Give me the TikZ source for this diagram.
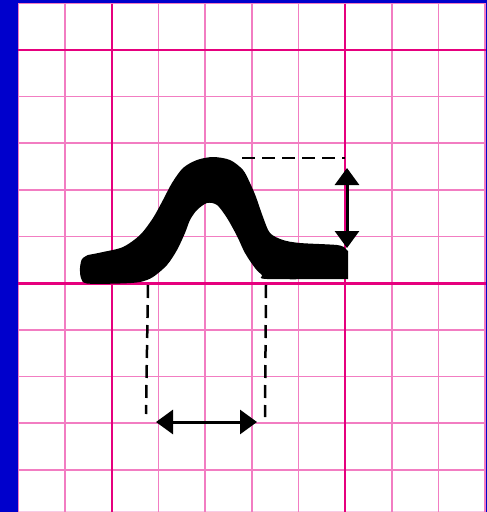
\documentclass[tikz,border=0pt]{standalone}
\usetikzlibrary{arrows.meta}
\definecolor{bordblue}{HTML}{0000CC}
\definecolor{minorpink}{HTML}{F27DC2}
\definecolor{majorpink}{HTML}{E6007E}
\tikzset{
  minorline/.style={draw=minorpink, line width=1.6pt},
  majorline/.style={draw=majorpink, line width=2.6pt},
  dashline/.style={draw=black, line width=2.5pt, dash pattern=on 13pt off 7pt},
  dimarrow/.style={draw=black, line width=3pt,
    {Triangle[length=17pt,width=24pt]}-{Triangle[length=17pt,width=24pt]}}
}
\begin{document}
\begin{tikzpicture}[x=1pt,y=-1pt]
\useasboundingbox (0,0) rectangle (487,512);
% background and border
\fill[bordblue] (0,0) rectangle (487,512);
\fill[white] (17.5,3.5) rectangle (485.5,512);
% grid
\foreach \k in {0,1,3,4,5,6,8,9,10} {
  \draw[minorline] ({18.5+46.65*\k},3.5) -- ({18.5+46.65*\k},512);
}
\foreach \k in {0,2,3,4,5,7,8,9,10} {
  \draw[minorline] (18,{3.3+46.65*\k}) -- (485.5,{3.3+46.65*\k});
}
\draw[minorline, draw opacity=0.4] (18,511.5) -- (485.5,511.5);
\foreach \k in {2,7} {
  \draw[majorline] ({18.5+46.65*\k},3.5) -- ({18.5+46.65*\k},512);
}
\foreach \k in {1,6} {
  \draw[majorline] (18,{3.3+46.65*\k}) -- (485.5,{3.3+46.65*\k});
}
% waveform
\fill[black] plot[smooth,tension=0.5] coordinates {(88,255) (103,252) (123,247) (140,235) (153,218) (163,200) (172,183) (183,168) (197,160) (213,157) (230,160) (243,170) (250,183) (256,197) (263,217) (270,233) (283,240) (300,243) (337,245) (345,248)}
  -- (348,251) -- (348,279)
  -- plot[smooth,tension=0.5] coordinates {(347,279) (267,279) (262,275) (255,268) (245,253) (237,236) (227,218) (217,205) (207,203) (197,210) (190,220) (185,233) (177,250) (167,265) (153,277) (140,282) (120,283.5) (87,283.5) (81,278) (80,268) (82,259) (88,255)}
  -- cycle;
% dashed guides
\coordinate (hA) at (242,158);
\coordinate (hB) at (345,158);
\coordinate (lA) at (148,285);
\coordinate (lB) at (146,414);
\coordinate (rA) at (266,285);
\coordinate (rB) at (265,417);
\draw[dashline] (hA) -- (hB);
\draw[dashline] (lA) -- (lB);
\draw[dashline] (rA) -- (rB);
% dimension arrows
\coordinate (vA) at (347,168);
\coordinate (vB) at (347,248);
\coordinate (wA) at (156,422);
\coordinate (wB) at (257,422);
\draw[dimarrow] (vA) -- (vB);
\draw[dimarrow] (wA) -- (wB);
\end{tikzpicture}
\end{document}
